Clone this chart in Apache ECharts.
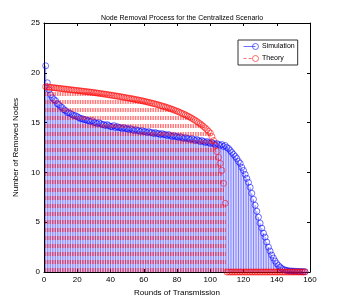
<!DOCTYPE html>
<html>
<head>
<meta charset="utf-8">
<script src="https://cdn.jsdelivr.net/npm/echarts@6/dist/echarts.min.js"></script>
<style>
html,body{margin:0;padding:0;background:#fff;}
#chart{width:343px;height:307px;}
</style>
</head>
<body>
<div id="chart"></div>
<script>
// Simulation: removed nodes per round (rounds 1..157)
var simulation = [
20.7,19.0,18.3,17.8,17.5,17.3,17.2,16.9,16.8,16.6,
16.5,16.3,16.2,16.0,16.0,15.9,15.8,15.7,15.7,15.6,
15.5,15.4,15.4,15.3,15.3,15.2,15.2,15.1,15.2,15.0,
15.0,14.9,15.0,14.9,14.8,14.8,14.7,14.8,14.7,14.6,
14.6,14.7,14.5,14.6,14.5,14.5,14.4,14.5,14.4,14.4,
14.3,14.4,14.3,14.2,14.3,14.2,14.2,14.1,14.2,14.1,
14.1,14.0,14.1,14.0,14.0,13.9,14.0,13.9,13.9,13.8,
13.9,13.8,13.8,13.7,13.8,13.7,13.6,13.7,13.6,13.6,
13.5,13.6,13.5,13.4,13.5,13.4,13.4,13.3,13.4,13.3,
13.2,13.3,13.2,13.1,13.2,13.1,13.0,13.1,13.0,12.9,
13.0,12.9,12.8,12.9,12.8,12.7,12.8,12.6,12.7,12.5,
12.4,12.2,12.0,11.8,11.6,11.4,11.1,10.9,10.5,10.2,
9.8,9.4,9.0,8.5,7.9,7.3,6.7,6.1,5.5,4.9,
4.4,3.9,3.5,3.0,2.5,2.1,1.7,1.4,1.1,0.85,
0.65,0.5,0.35,0.25,0.2,0.15,0.12,0.1,0.1,0.08,
0.08,0.06,0.05,0.05,0.04,0.03,0.03
];
// Theory: removed nodes per round (rounds 1..157)
var theory = [
18.60,18.58,18.56,18.54,18.52,18.50,18.48,18.46,18.44,18.42,
18.40,18.38,18.36,18.34,18.32,18.30,18.28,18.26,18.24,18.22,
18.20,18.18,18.16,18.14,18.12,18.10,18.08,18.06,18.04,18.01,
17.99,17.97,17.94,17.92,17.89,17.87,17.84,17.82,17.79,17.76,
17.74,17.71,17.68,17.66,17.63,17.60,17.57,17.54,17.51,17.48,
17.45,17.42,17.39,17.36,17.32,17.29,17.26,17.22,17.19,17.15,
17.11,17.07,17.03,16.99,16.95,16.91,16.86,16.82,16.77,16.72,
16.67,16.62,16.57,16.51,16.46,16.40,16.34,16.28,16.21,16.15,
16.08,16.01,15.93,15.86,15.78,15.69,15.61,15.52,15.42,15.32,
15.22,15.11,14.99,14.87,14.74,14.60,14.46,14.30,14.13,13.95,
13.60,13.20,12.70,12.10,11.50,10.90,10.20,8.90,6.90,0,
0,0,0,0,0,0,0,0,0,0,
0,0,0,0,0,0,0,0,0,0,
0,0,0,0,0,0,0,0,0,0,
0,0,0,0,0,0,0,0,0,0,
0,0,0,0,0,0,0
];
var xTicks = [0,20,40,60,80,100,120,140,160];
var yTicks = [0,5,10,15,20,25];

var FONT = 'Liberation Sans, Arial, Helvetica, sans-serif';
function pairs(arr){ var out=[]; for(var i=0;i<arr.length;i++){ out.push([i+1, arr[i]]); } return out; }
var simData = pairs(simulation), thData = pairs(theory);

function stem(color, dash, op){
  return function(params, api){
    var x = api.value(0), y = api.value(1);
    var p0 = api.coord([x,0]), p1 = api.coord([x,y]);
    return {type:'line', shape:{x1:p0[0],y1:p0[1],x2:p1[0],y2:p1[1]},
      style:{stroke:color, lineWidth:0.7, lineDash:dash, opacity:op}};
  };
}

var chart = echarts.init(document.getElementById('chart'), null, {renderer:'canvas'});
var axisCommon = {
  min:0, axisLine:{show:true, onZero:false, lineStyle:{color:'#000', width:1}},
  axisTick:{show:true, inside:true, length:3, lineStyle:{color:'#000'}},
  splitLine:{show:false},
  axisLabel:{fontSize:8, color:'#000', fontFamily:FONT, margin:4}
};
chart.setOption({
  backgroundColor:'#fff',
  animation:false,
  textStyle:{fontFamily:FONT},
  title:{text:'Node Removal Process for the Centralized Scenario', left:177, textAlign:'center', top:10,
    textStyle:{fontSize:7, fontWeight:'normal', color:'#000', fontFamily:FONT}},
  grid:{left:44, right:33, top:23, bottom:35, containLabel:false},
  legend:{
    left:238, top:40, orient:'vertical', itemWidth:16, itemHeight:6, itemGap:1,
    padding:[1,3,1,3], borderColor:'#333', borderWidth:1, backgroundColor:'#fff',
    textStyle:{fontSize:7, color:'#000', fontFamily:FONT, padding:[0,0,0,-2]},
    data:[
      {name:'Simulation', icon:'path://M0,4L16,4M12,4A4,4,0,1,0,20,4A4,4,0,1,0,12,4Z',
       itemStyle:{color:'none', borderColor:'#0000ff', borderWidth:0.7}},
      {name:'Theory', icon:'path://M0,4L4,4M7,4L11,4M12,4A4,4,0,1,0,20,4A4,4,0,1,0,12,4Z',
       itemStyle:{color:'none', borderColor:'#ff0000', borderWidth:0.7}}
    ]
  },
  xAxis:[
    Object.assign({}, axisCommon, {type:'value', position:'bottom', max:160, interval:20,
      name:'Rounds of Transmission', nameLocation:'middle', nameGap:14,
      nameTextStyle:{fontSize:8, color:'#000', fontFamily:FONT}}),
    Object.assign({}, axisCommon, {type:'value', position:'top', max:160, interval:20, axisLabel:{show:false}})
  ],
  yAxis:[
    Object.assign({}, axisCommon, {type:'value', position:'left', max:25, interval:5,
      name:'Number of Removed Nodes', nameLocation:'middle', nameGap:15,
      nameTextStyle:{fontSize:8, color:'#000', fontFamily:FONT}}),
    Object.assign({}, axisCommon, {type:'value', position:'right', max:25, interval:5, axisLabel:{show:false}})
  ],
  series:[
    {type:'custom', name:'simStem', data:simData, renderItem:stem('#0000ff', null, 0.7), z:1, silent:true},
    {type:'scatter', name:'Simulation', data:simData, symbol:'circle', symbolSize:6, z:2,
      itemStyle:{color:'none', borderColor:'#0000ff', borderWidth:0.7}},
    {type:'custom', name:'thStem', data:thData, renderItem:stem('#ff0000', [4,4], 0.75), z:3, silent:true},
    {type:'scatter', name:'Theory', data:thData, symbol:'circle', symbolSize:6, z:4,
      itemStyle:{color:'none', borderColor:'#ff0000', borderWidth:0.7}}
  ]
});
</script>
</body>
</html>
